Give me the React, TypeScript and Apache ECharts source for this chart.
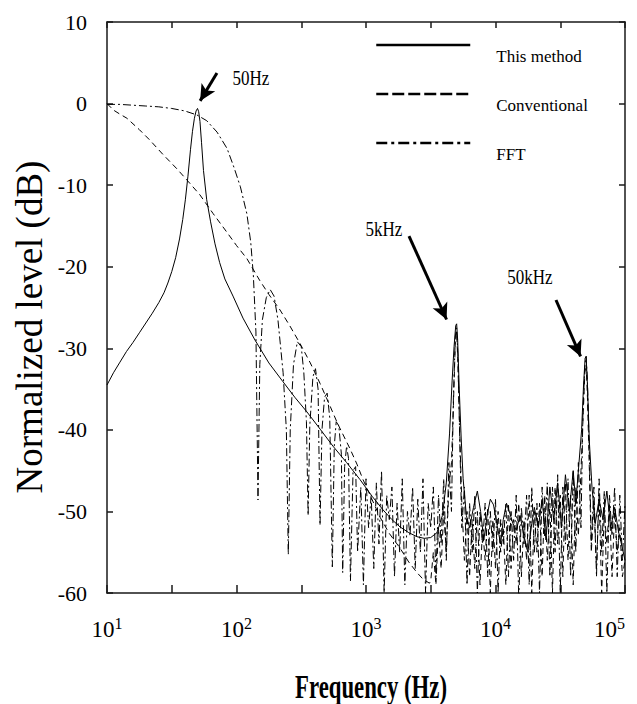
import React, { useEffect, useRef } from "react";
import * as echarts from "echarts";

// x values are log10(frequency in Hz), y values are normalized level in dB
const seriesNames = ["This method", "Conventional", "FFT"];

const thisMethod: [number, number][] = [
  [1.0, -34.5], [1.05, -33.0], [1.1, -31.7], [1.15, -30.4], [1.2, -29.3], [1.25, -28.1],
  [1.3, -26.9], [1.35, -25.7], [1.4, -24.4], [1.44, -23.2], [1.47, -22.0], [1.5, -20.6],
  [1.53, -18.9], [1.56, -16.6], [1.585, -14.2], [1.605, -11.8], [1.625, -8.9], [1.645, -5.6],
  [1.66, -3.4], [1.675, -1.8], [1.688, -0.9], [1.699, -0.6], [1.708, -1.0], [1.718, -2.2],
  [1.73, -4.8], [1.745, -8.2], [1.77, -11.8], [1.8, -14.5], [1.834, -17.2], [1.87, -19.5],
  [1.91, -21.5], [1.973, -23.6], [2.05, -26.3], [2.143, -29.0], [2.25, -31.8], [2.359, -34.1],
  [2.45, -36.0], [2.544, -37.8], [2.65, -40.0], [2.745, -42.0], [2.85, -44.0], [2.954, -46.1],
  [3.05, -48.2], [3.131, -49.8], [3.2, -51.0], [3.263, -51.9], [3.33, -52.6], [3.394, -53.1],
  [3.45, -53.3], [3.5, -53.2], [3.548, -52.6], [3.59, -50.5], [3.62, -46.5], [3.645, -40.5],
  [3.665, -34.0], [3.68, -29.8], [3.693, -27.2], [3.7, -27.0], [3.708, -29.0], [3.72, -35.0],
  [3.735, -41.0], [3.75, -46.0], [3.775, -50.5], [3.8, -52.0], [3.83, -49.5], [3.86, -47.5],
  [3.885, -50.0], [3.91, -53.5], [3.935, -50.5], [3.96, -48.5], [3.985, -49.2], [4.01, -51.5],
  [4.04, -54.0], [4.06, -51.0], [4.085, -49.0], [4.11, -50.2], [4.135, -51.5], [4.16, -52.3],
  [4.19, -50.5], [4.22, -53.0], [4.25, -55.0], [4.28, -51.5], [4.3, -49.5], [4.33, -52.0],
  [4.36, -48.5], [4.39, -53.5], [4.42, -47.0], [4.45, -51.0], [4.48, -46.5], [4.51, -52.0],
  [4.54, -45.5], [4.57, -50.0], [4.6, -45.0], [4.62, -49.0], [4.645, -44.0], [4.665, -40.0],
  [4.68, -34.5], [4.692, -31.2], [4.7, -31.0], [4.71, -34.5], [4.725, -41.5], [4.745, -47.0],
  [4.77, -51.5], [4.8, -48.5], [4.83, -51.0], [4.86, -47.5], [4.89, -52.0], [4.92, -49.5],
  [4.95, -52.5], [4.98, -54.5], [5.0, -56.0],
];

const conventional: [number, number][] = [
  [1.0, 0.0], [1.05, -0.8], [1.1, -1.3], [1.154, -1.8], [1.25, -3.2], [1.332, -4.5],
  [1.43, -6.2], [1.54, -8.0], [1.63, -9.6], [1.718, -11.2], [1.82, -13.5], [1.927, -15.8],
  [2.0, -17.4], [2.08, -19.0], [2.18, -21.7], [2.25, -23.4], [2.336, -25.3], [2.41, -27.2],
  [2.49, -29.4], [2.57, -31.8], [2.645, -34.3], [2.72, -37.0], [2.78, -39.2], [2.82, -40.5],
  [2.876, -42.3], [2.93, -44.2], [2.977, -46.1], [3.04, -48.3], [3.108, -50.7], [3.18, -52.7],
  [3.263, -54.5], [3.33, -56.2], [3.394, -57.5], [3.44, -58.3], [3.49, -58.8], [3.5, -58.5],
  [3.52, -55.0], [3.54, -59.0], [3.56, -52.0], [3.58, -57.0], [3.6, -50.0], [3.62, -55.0],
  [3.64, -47.0], [3.66, -44.0], [3.675, -37.0], [3.69, -29.0], [3.7, -28.0], [3.71, -32.0],
  [3.725, -41.0], [3.74, -49.0], [3.76, -56.0], [3.78, -50.0], [3.8, -58.0], [3.82, -51.0],
  [3.84, -57.0], [3.86, -50.0], [3.88, -59.0], [3.9, -52.0], [3.92, -56.0], [3.94, -49.5],
  [3.96, -60.0], [3.98, -51.0], [4.0, -57.0], [4.02, -50.0], [4.04, -55.0], [4.06, -52.0],
  [4.08, -59.0], [4.1, -49.0], [4.12, -57.0], [4.14, -51.0], [4.16, -54.0], [4.18, -49.0],
  [4.2, -58.0], [4.22, -51.0], [4.24, -56.0], [4.26, -48.0], [4.28, -60.0], [4.3, -50.0],
  [4.32, -55.0], [4.34, -49.0], [4.36, -58.0], [4.38, -48.0], [4.4, -56.0], [4.42, -49.0],
  [4.44, -60.0], [4.46, -47.0], [4.48, -54.0], [4.5, -48.0], [4.52, -58.0], [4.54, -46.5],
  [4.56, -56.0], [4.58, -48.0], [4.6, -59.0], [4.62, -47.0], [4.64, -53.0], [4.66, -45.0],
  [4.675, -39.0], [4.69, -33.0], [4.7, -32.0], [4.71, -36.0], [4.725, -45.0], [4.74, -55.0],
  [4.76, -49.0], [4.78, -57.0], [4.8, -48.0], [4.82, -60.0], [4.84, -50.0], [4.86, -54.0],
  [4.88, -49.0], [4.9, -58.0], [4.92, -50.0], [4.94, -55.0], [4.96, -52.0], [4.98, -58.0],
  [5.0, -56.0],
];

const fft: [number, number][] = [
  [1.0, -0.1], [1.1, -0.1], [1.2, -0.2], [1.3, -0.3], [1.4, -0.4], [1.5, -0.6], [1.6, -0.9],
  [1.695, -1.4], [1.77, -2.1], [1.85, -3.5], [1.927, -5.5], [1.98, -7.8], [2.03, -10.2],
  [2.08, -13.5], [2.11, -17.0], [2.13, -21.0], [2.15, -28.0], [2.166, -48.6], [2.18, -32.0],
  [2.2, -26.5], [2.23, -23.8], [2.26, -22.8], [2.29, -23.6], [2.32, -26.5], [2.36, -33.0],
  [2.385, -40.0], [2.4, -55.3], [2.415, -40.0], [2.44, -32.0], [2.47, -29.2], [2.5, -29.8],
  [2.52, -33.0], [2.54, -39.0], [2.553, -50.5], [2.566, -39.5], [2.59, -33.5], [2.61, -32.5],
  [2.63, -35.0], [2.645, -51.7], [2.66, -40.0], [2.68, -36.0], [2.7, -35.5], [2.72, -38.5],
  [2.74, -56.8], [2.755, -42.0], [2.77, -39.0], [2.79, -39.5], [2.81, -43.0], [2.82, -57.5],
  [2.835, -44.5], [2.85, -42.0], [2.865, -43.5], [2.88, -58.5], [2.9, -45.0], [2.92, -44.5],
  [2.935, -55.0], [2.96, -47.0], [2.98, -59.0], [3.0, -46.0], [3.02, -52.0], [3.04, -48.0],
  [3.06, -57.0], [3.08, -46.5], [3.1, -54.0], [3.12, -45.0], [3.14, -60.0], [3.16, -48.0],
  [3.18, -51.0], [3.2, -47.0], [3.22, -58.0], [3.24, -49.0], [3.26, -55.0], [3.28, -46.0],
  [3.3, -59.0], [3.32, -50.0], [3.34, -53.0], [3.36, -47.0], [3.38, -57.0], [3.4, -48.5],
  [3.42, -55.0], [3.44, -46.0], [3.46, -60.0], [3.48, -49.0], [3.5, -52.0], [3.52, -47.0],
  [3.54, -58.0], [3.56, -48.0], [3.58, -54.0], [3.6, -46.0], [3.62, -56.0], [3.64, -44.0],
  [3.66, -50.0], [3.675, -36.0], [3.69, -28.5], [3.7, -27.5], [3.71, -31.0], [3.725, -42.0],
  [3.74, -52.0], [3.76, -47.0], [3.78, -59.0], [3.8, -49.0], [3.82, -55.0], [3.84, -48.0],
  [3.86, -60.0], [3.88, -50.0], [3.9, -54.0], [3.92, -49.0], [3.94, -58.0], [3.96, -50.0],
  [3.98, -55.0], [4.0, -48.5], [4.02, -60.0], [4.04, -51.0], [4.06, -54.0], [4.08, -49.0],
  [4.1, -58.0], [4.12, -50.0], [4.14, -56.0], [4.16, -48.0], [4.18, -61.0], [4.2, -49.5],
  [4.22, -54.0], [4.24, -48.0], [4.26, -59.0], [4.28, -47.0], [4.3, -55.0], [4.32, -49.0],
  [4.34, -60.0], [4.36, -47.0], [4.38, -53.0], [4.4, -46.5], [4.42, -58.0], [4.44, -47.0],
  [4.46, -55.0], [4.48, -45.5], [4.5, -60.0], [4.52, -47.0], [4.54, -54.0], [4.56, -46.0],
  [4.58, -58.0], [4.6, -45.0], [4.62, -55.0], [4.64, -44.0], [4.66, -52.0], [4.675, -38.0],
  [4.69, -32.0], [4.7, -31.0], [4.71, -34.0], [4.725, -43.0], [4.74, -54.0], [4.76, -47.0],
  [4.78, -58.0], [4.8, -46.0], [4.82, -55.0], [4.84, -47.5], [4.86, -60.0], [4.88, -48.0],
  [4.9, -53.0], [4.92, -47.0], [4.94, -58.0], [4.96, -48.0], [4.98, -56.0], [5.0, -49.0],
];

// decade exponents labelled on the frequency axis (10^n Hz)
const xExponents = [1, 2, 3, 4, 5];
const yTicks = [-60, -50, -40, -30, -20, -10, 0, 10];

// peak annotations: label position, arrow tail and arrow head (log10 Hz, dB)
const annotationLabels = ["50Hz", "5kHz", "50kHz"];
const annotationLabelAt: [number, number][] = [[2.112, 3.13], [3.139, -15.38], [4.266, -21.26]];
const arrowFrom: [number, number][] = [[1.849, 3.75], [3.332, -16.24], [4.467, -24.08]];
const arrowTo: [number, number][] = [[1.719, 0.33], [3.622, -26.47], [4.657, -31.0]];

const SERIF = '"Liberation Serif", "Times New Roman", serif';

export default function App() {
  const ref = useRef<HTMLDivElement>(null);

  useEffect(() => {
    document.body.style.margin = "0";
    const chart = echarts.init(ref.current as HTMLDivElement, null, { renderer: "svg" });
    const axisColor = "#1a1a1a";
    const axisLine = { show: true, onZero: false, lineStyle: { color: axisColor, width: 1.5 } };
    const dashConv = [6, 4];
    const dashFft = [8, 3, 2, 3];

    chart.setOption({
      animation: false,
      backgroundColor: "#ffffff",
      grid: { left: 107, right: 12, top: 22, bottom: 111 },
      legend: {
        orient: "vertical",
        left: 375,
        top: 23,
        padding: 0,
        itemWidth: 94,
        itemHeight: 14,
        itemGap: 5,
        selectedMode: false,
        icon: "inherit",
        itemStyle: { opacity: 0 },
        formatter: (name: string) => `\n${name}`,
        textStyle: { fontFamily: SERIF, fontSize: 17, color: "#000", lineHeight: 22, padding: [0, 0, 0, 21] },
        data: [
          { name: seriesNames[0], icon: "inherit", lineStyle: { width: 2.5, type: "solid", color: "#000" } },
          { name: seriesNames[1], icon: "inherit", lineStyle: { width: 2.5, type: [12, 4], color: "#000" } },
          { name: seriesNames[2], icon: "inherit", lineStyle: { width: 2.5, type: [11, 4, 3, 4], color: "#000" } },
        ],
      },
      xAxis: [
        {
          type: "value",
          min: 1,
          max: 5,
          interval: 0.5,
          position: "bottom",
          axisLine,
          axisTick: { show: true, inside: true, length: 8, lineStyle: { color: axisColor, width: 1.5 } },
          splitLine: { show: false },
          axisLabel: {
            margin: 22,
            showMinLabel: true,
            showMaxLabel: true,
            alignMaxLabel: "right",
            formatter: (v: number) => (xExponents.includes(v) ? `{b|10}{s|${v}}` : ""),
            rich: {
              b: { fontFamily: SERIF, fontSize: 23, color: "#000", lineHeight: 26, verticalAlign: "bottom" },
              s: { fontFamily: SERIF, fontSize: 16, color: "#000", lineHeight: 16, verticalAlign: "top" },
            },
          },
        },
        {
          type: "value",
          min: 1,
          max: 5,
          interval: 0.5,
          position: "top",
          axisLine,
          axisTick: { show: true, inside: true, length: 6, lineStyle: { color: axisColor, width: 1.5 } },
          splitLine: { show: false },
          axisLabel: { show: false },
        },
      ],
      yAxis: [
        {
          type: "value",
          min: yTicks[0],
          max: yTicks[yTicks.length - 1],
          interval: 10,
          position: "left",
          axisLine,
          axisTick: { show: true, inside: true, length: 6, lineStyle: { color: axisColor, width: 1.5 } },
          splitLine: { show: false },
          axisLabel: { fontFamily: SERIF, fontSize: 22, color: "#000", margin: 20 },
        },
        {
          type: "value",
          min: yTicks[0],
          max: yTicks[yTicks.length - 1],
          interval: 10,
          position: "right",
          axisLine,
          axisTick: { show: true, inside: true, length: 6, lineStyle: { color: axisColor, width: 1.5 } },
          splitLine: { show: false },
          axisLabel: { show: false },
        },
      ],
      series: [
        {
          name: seriesNames[0],
          type: "line",
          data: thisMethod,
          symbol: "none",
          clip: true,
          z: 4,
          lineStyle: { color: "#000", width: 1, type: "solid" },
          itemStyle: { color: "#000" },
          markLine: {
            silent: true,
            animation: false,
            symbol: ["none", "arrow"],
            symbolSize: [12, 16],
            label: { show: false },
            itemStyle: { color: "#000", opacity: 1 },
            lineStyle: { color: "#000", width: 3, type: "solid" },
            data: arrowFrom.map((f, i) => [{ coord: f }, { coord: arrowTo[i] }]),
          },
        },
        {
          name: seriesNames[1],
          type: "line",
          data: conventional,
          symbol: "none",
          clip: true,
          z: 3,
          lineStyle: { color: "#000", width: 1, type: dashConv },
          itemStyle: { color: "#000" },
        },
        {
          name: seriesNames[2],
          type: "line",
          data: fft,
          symbol: "none",
          clip: true,
          z: 2,
          lineStyle: { color: "#000", width: 1, type: dashFft },
          itemStyle: { color: "#000" },
        },
      ],
    });

    const toPx = (p: [number, number]) => chart.convertToPixel({ seriesIndex: 0 }, p) as number[];
    const labelGraphics = annotationLabels.map((t, i) => {
      const p = toPx(annotationLabelAt[i]);
      return {
        type: "text",
        x: p[0],
        y: p[1],
        scaleX: 0.85,
        silent: true,
        style: {
          text: t,
          font: `20px ${SERIF}`,
          fill: "#000",
          textAlign: "center",
          textVerticalAlign: "middle",
          align: "center",
          verticalAlign: "middle",
        },
      };
    });

    chart.setOption({
      graphic: [
        ...labelGraphics,
        {
          type: "text",
          x: 29,
          y: 327,
          rotation: Math.PI / 2,
          silent: true,
          style: {
            text: "Normalized level (dB)",
            font: `37px ${SERIF}`,
            fill: "#000",
            textAlign: "center",
            textVerticalAlign: "middle",
            align: "center",
            verticalAlign: "middle",
          },
        },
        {
          type: "text",
          x: 371,
          y: 686,
          scaleX: 0.67,
          silent: true,
          style: {
            text: "Frequency (Hz)",
            font: `bold 34px ${SERIF}`,
            fill: "#000",
            textAlign: "center",
            textVerticalAlign: "middle",
            align: "center",
            verticalAlign: "middle",
          },
        },
      ],
    });

    return () => chart.dispose();
  }, []);

  return <div ref={ref} style={{ width: 637, height: 704 }} />;
}
